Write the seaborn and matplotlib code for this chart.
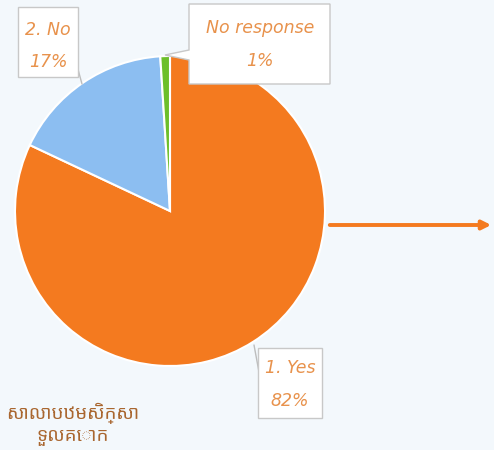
import matplotlib
matplotlib.use("Agg")
import matplotlib.pyplot as plt
import seaborn as sns
from matplotlib.patches import FancyArrowPatch

sns.set_theme(style="white")
plt.rcParams['font.family'] = ['DejaVu Sans']

categories = ["1. Yes", "2. No", "No response"]
values = [82, 17, 1]
pct_labels = ["82%", "17%", "1%"]
colors = ["#F47A1F", "#8CBEF1", "#6CBF2A"]
school = "សាលាបឋមសិក្សា\nទួលគោក"

bg = "#F3F8FC"
W, H = 494, 450
fig = plt.figure(figsize=(W / 100, H / 100), dpi=100, facecolor=bg)

# pie axes
cx, cy, r = 170, 211, 155
ax = fig.add_axes([(cx - r) / W, 1 - (cy + r) / H, 2 * r / W, 2 * r / H])
ax.set_facecolor("none")
ax.pie(values, colors=colors, startangle=90, counterclock=False,
       wedgeprops=dict(edgecolor="white", linewidth=1.5))
ax.set_xlim(-1, 1)
ax.set_ylim(-1, 1)
ax.set_aspect("equal")
ax.axis("off")

# overlay axes in pixel coordinates
ov = fig.add_axes([0, 0, 1, 1], facecolor="none")
ov.set_xlim(0, W)
ov.set_ylim(H, 0)
ov.axis("off")

txtc = "#E8924C"
fkw = dict(fontsize=12.5, style="italic", color=txtc, ha="center", va="center",
           family=["DejaVu Sans"])

def box(x0, y0, x1, y1):
    ov.fill([x0, x1, x1, x0], [y0, y0, y1, y1], facecolor="white",
            edgecolor="#C8C8C8", linewidth=1, zorder=3)

# 2. No
ov.plot([76, 82], [62, 84], color="#BDBDBD", lw=1, zorder=2)
box(18, 7, 78, 77)
ov.text(48, 30, categories[1], zorder=4, **fkw)
ov.text(48, 62, pct_labels[1], zorder=4, **fkw)

# No response (callout)
ov.fill([189, 330, 330, 189, 189, 165, 189], [4, 4, 84, 84, 60, 55, 50],
        facecolor="white", edgecolor="#C8C8C8", linewidth=1, zorder=3)
ov.text(260, 28, categories[2], zorder=4, **fkw)
ov.text(260, 61, pct_labels[2], zorder=4, **fkw)

# 1. Yes
ov.plot([254, 259], [345, 372], color="#BDBDBD", lw=1, zorder=2)
box(258, 348, 322, 418)
ov.text(290, 368, categories[0], zorder=4, **fkw)
ov.text(290, 401, pct_labels[0], zorder=4, **fkw)

# arrow
ov.add_patch(FancyArrowPatch((327, 225), (494, 225), arrowstyle="-|>",
                             mutation_scale=13, color="#F47A1F", lw=2.8, zorder=2))

# school name
ov.text(73, 424, school, ha="center", va="center", fontsize=13.5, color="#A9662F",
        linespacing=1.15, family=["Noto Sans Khmer", "Khmer OS", "Noto Sans", "DejaVu Sans"])

fig.savefig("out.png", dpi=100, facecolor=bg)
